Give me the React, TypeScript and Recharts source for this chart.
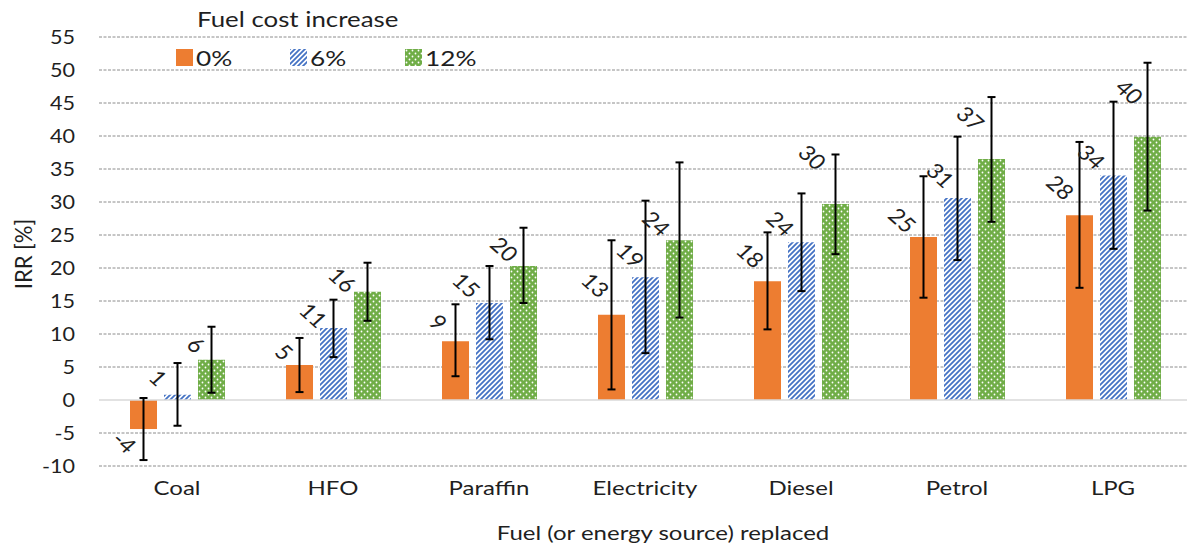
import React from 'react';
import { BarChart, Bar, XAxis, YAxis, CartesianGrid, ErrorBar, LabelList, ReferenceLine } from 'recharts';

const categories = ['Coal', 'HFO', 'Paraffin', 'Electricity', 'Diesel', 'Petrol', 'LPG'];

// IRR [%] per fuel cost increase
const irr0 = [-4.4, 5.3, 8.9, 12.9, 18.0, 24.7, 28.0];
const irr6 = [0.8, 10.9, 14.7, 18.6, 23.9, 30.6, 34.0];
const irr12 = [6.1, 16.4, 20.3, 24.2, 29.7, 36.5, 39.9];

const labels0 = ['-4', '5', '9', '13', '18', '25', '28'];
const labels6 = ['1', '11', '15', '19', '24', '31', '34'];
const labels12 = ['6', '16', '20', '24', '30', '37', '40'];

// error bar ends
const low0 = [-9.1, 1.2, 3.6, 1.6, 10.7, 15.5, 17.0];
const high0 = [0.3, 9.4, 14.5, 24.2, 25.4, 33.9, 39.1];
const low6 = [-3.9, 6.5, 9.2, 7.1, 16.5, 21.2, 22.9];
const high6 = [5.6, 15.2, 20.3, 30.2, 31.3, 39.9, 45.2];
const low12 = [1.1, 12.0, 14.7, 12.5, 22.1, 27.0, 28.7];
const high12 = [11.1, 20.8, 26.1, 36.0, 37.2, 45.9, 51.1];

const yTicks = [-10, -5, 0, 5, 10, 15, 20, 25, 30, 35, 40, 45, 50, 55];

const data = categories.map((name, i) => ({
  name,
  v0: irr0[i],
  v6: irr6[i],
  v12: irr12[i],
  e0: [irr0[i] - low0[i], high0[i] - irr0[i]],
  e6: [irr6[i] - low6[i], high6[i] - irr6[i]],
  e12: [irr12[i] - low12[i], high12[i] - irr12[i]],
  l0: labels0[i],
  l6: labels6[i],
  l12: labels12[i],
}));

// hand placed label nudges (dx, dy from bar end), as in the original figure
const nudge: number[][][] = [
  [[-19, 13], [-15, -13], [-17, -19], [-16, -30], [-17, -26], [-21, -17], [-19, -28]],
  [[-19, -17], [-20, -13], [-23, -18], [-15, -22], [-21, -19], [-17, -23], [-22, -19]],
  [[-15, -15], [-25, -12], [-19, -17], [-23, -17], [-23, -47], [-21, -41], [-18, -45]],
];

const ORANGE = '#ED7D31';
const BLUE = '#4472C4';
const GREEN = '#70AD47';
const TEXT = '#1f1f1f';
const FONT = 'Lato, "Open Sans", sans-serif';
// the source figure is a bit stretched sideways
const SX = 1.2;

const renderLabel = (series: number) => (p: any) => {
  const vb = p.viewBox && p.viewBox.width !== undefined ? p.viewBox : p;
  const { x, y, width, height } = vb;
  const idx = p.index;
  const neg = parseFloat(p.value) < 0;
  const top = Math.min(y, y + height);
  const bottom = Math.max(y, y + height);
  const cx = x + width / 2;
  const [dx, dy] = nudge[series][idx];
  const px = cx + dx;
  const py = (neg ? bottom : top) + dy;
  return (
    <text
      transform={`translate(${px}, ${py}) scale(1.12, 1) rotate(45)`}
      textAnchor="middle"
      dominantBaseline="central"
      fontSize={21}
      fontFamily={FONT}
      fill={TEXT}
    >
      {p.value}
    </text>
  );
};

const XTick = (p: any) => (
  <text
    transform={`translate(${p.x}, ${p.y}) scale(${SX}, 1)`}
    textAnchor="middle"
    dy="0.71em"
    fontSize={20}
    fontFamily={FONT}
    fill={TEXT}
  >
    {p.payload.value}
  </text>
);

const YTick = (p: any) => (
  <text
    transform={`translate(${p.x}, ${p.y}) scale(1.08, 1)`}
    textAnchor="end"
    dy="0.355em"
    fontSize={20}
    fontFamily={FONT}
    fill={TEXT}
  >
    {p.payload.value}
  </text>
);

function Swatch({ kind }: { kind: string }) {
  return (
    <svg width={17} height={17} style={{ display: 'block' }}>
      <defs>
        <pattern id="lgHatch" width="5" height="5" patternUnits="userSpaceOnUse">
          <rect width="5" height="5" fill="#fff" />
          <path d="M-1,1 l2,-2 M0,5 l5,-5 M4,6 l2,-2" stroke={BLUE} strokeWidth={1.8} />
        </pattern>
        <pattern id="lgDots" width="6" height="6" patternUnits="userSpaceOnUse">
          <rect width="6" height="6" fill={GREEN} />
          <circle cx="1.5" cy="1.5" r="0.9" fill="#fff" />
          <circle cx="4.5" cy="4.5" r="0.9" fill="#fff" />
        </pattern>
      </defs>
      <rect
        width={17}
        height={17}
        fill={kind === 'o' ? ORANGE : kind === 'b' ? 'url(#lgHatch)' : 'url(#lgDots)'}
      />
    </svg>
  );
}

export default function App() {
  return (
    <div
      style={{
        position: 'absolute',
        left: 0,
        top: 0,
        width: 1187,
        height: 545,
        overflow: 'hidden',
        background: '#fff',
        fontFamily: FONT,
      }}
    >
      <BarChart
        width={1195}
        height={545}
        data={data}
        margin={{ top: 37, right: 4, bottom: 0, left: 0 }}
        barSize={27}
        barGap={7}
      >
        <defs>
          <pattern id="hatch" width="5" height="5" patternUnits="userSpaceOnUse">
            <rect width="5" height="5" fill="#fff" />
            <path d="M-1,1 l2,-2 M0,5 l5,-5 M4,6 l2,-2" stroke={BLUE} strokeWidth={1.8} />
          </pattern>
          <pattern id="dots" width="6" height="6" patternUnits="userSpaceOnUse">
            <rect width="6" height="6" fill={GREEN} />
            <circle cx="1.5" cy="1.5" r="0.9" fill="#fff" />
            <circle cx="4.5" cy="4.5" r="0.9" fill="#fff" />
          </pattern>
        </defs>
        <CartesianGrid
          vertical={false}
          stroke="#8c8c8c"
          strokeDasharray="3 1.5"
          horizontalValues={yTicks.filter((t) => t !== 0)}
        />
        <XAxis
          dataKey="name"
          axisLine={false}
          tickLine={false}
          tickSize={0}
          tickMargin={15}
          height={79}
          tick={XTick}
          label={{
            content: () => (
              <text
                transform={`translate(663, 532) scale(${SX}, 1)`}
                textAnchor="middle"
                dominantBaseline="central"
                fontSize={20}
                fill={TEXT}
                fontFamily={FONT}
              >
                Fuel (or energy source) replaced
              </text>
            ),
          }}
        />
        <YAxis
          domain={[-10, 55]}
          ticks={yTicks}
          interval={0}
          axisLine={false}
          tickLine={false}
          tickSize={0}
          tickMargin={24}
          width={99}
          tick={YTick}
          label={{
            content: () => (
              <text
                transform="translate(23, 254) scale(1.2, 1.1) rotate(-90)"
                textAnchor="middle"
                dominantBaseline="central"
                fontSize={20}
                fill={TEXT}
                fontFamily={FONT}
              >
                IRR [%]
              </text>
            ),
          }}
        />
        <ReferenceLine y={0} stroke="#d9d9d9" strokeWidth={1.5} />
        <Bar dataKey="v0" fill={ORANGE} isAnimationActive={false}>
          <ErrorBar dataKey="e0" width={4} strokeWidth={2} stroke="#000" direction="y" isAnimationActive={false} />
          <LabelList dataKey="l0" content={renderLabel(0)} />
        </Bar>
        <Bar dataKey="v6" fill="url(#hatch)" isAnimationActive={false}>
          <ErrorBar dataKey="e6" width={4} strokeWidth={2} stroke="#000" direction="y" isAnimationActive={false} />
          <LabelList dataKey="l6" content={renderLabel(1)} />
        </Bar>
        <Bar dataKey="v12" fill="url(#dots)" isAnimationActive={false}>
          <ErrorBar dataKey="e12" width={4} strokeWidth={2} stroke="#000" direction="y" isAnimationActive={false} />
          <LabelList dataKey="l12" content={renderLabel(2)} />
        </Bar>
      </BarChart>

      <div
        style={{
          position: 'absolute',
          left: 197,
          top: 4,
          fontSize: 21,
          color: TEXT,
          lineHeight: '30px',
          transform: `scaleX(${SX + 0.03})`,
          transformOrigin: 'left center',
          whiteSpace: 'nowrap',
        }}
      >
        Fuel cost increase
      </div>
      {[
        { kind: 'o', text: '0%', left: 176 },
        { kind: 'b', text: '6%', left: 290 },
        { kind: 'g', text: '12%', left: 405 },
      ].map((it) => (
        <div
          key={it.kind}
          style={{
            position: 'absolute',
            left: it.left,
            top: 42,
            height: 30,
            display: 'flex',
            alignItems: 'center',
            gap: 3,
            fontSize: 21,
            color: TEXT,
          }}
        >
          <Swatch kind={it.kind} />
          <span
            style={{
              display: 'inline-block',
              transform: `scaleX(${SX + 0.05})`,
              transformOrigin: 'left center',
            }}
          >
            {it.text}
          </span>
        </div>
      ))}
    </div>
  );
}
